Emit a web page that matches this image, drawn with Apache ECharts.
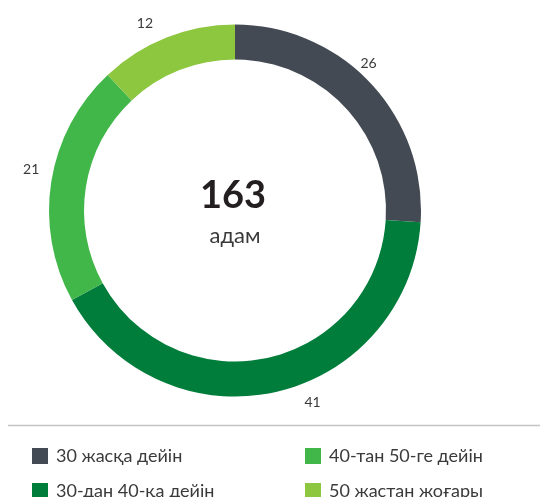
<!DOCTYPE html>
<html>
<head>
<meta charset="utf-8">
<script src="https://cdn.jsdelivr.net/npm/echarts@6/dist/echarts.min.js"></script>
<style>
  html, body { margin: 0; padding: 0; background: #fff; }
  #chart { width: 540px; height: 497px; }
</style>
</head>
<body>
<div id="chart"></div>
<script>
// Age groups and their shares
const categories = ['30 жасқа дейін', '30-дан 40-қа дейін', '40-тан 50-ге дейін', '50 жастан жоғары'];
const values = [26, 41, 21, 12];
const colors = ['#434a53', '#007c3b', '#41b649', '#8dc63f'];
const totalLabel = '163';
const totalUnit = 'адам';

// Fine placement of each slice's value label, relative to the default outside spot
const labelNudges = [[-18, -17], [23, 7], [-3, -11], [-7, -10]];

const chart = echarts.init(document.getElementById('chart'));
const font = 'Lato, "Open Sans", sans-serif';

const legendBase = {
  orient: 'vertical',
  itemWidth: 16,
  itemHeight: 16,
  itemGap: 17,
  padding: 0,
  icon: 'rect',
  top: 447,
  height: 60,
  textStyle: { fontFamily: font, fontSize: 18, color: '#3a3a3a', padding: [0, 0, 0, 3] },
  selectedMode: false
};

chart.setOption({
  animation: false,
  color: colors,
  textStyle: { fontFamily: font },
  legend: [
    Object.assign({}, legendBase, { left: 32, data: [categories[0], categories[1]] }),
    Object.assign({}, legendBase, { left: 305, data: [categories[2], categories[3]] })
  ],
  graphic: [
    {
      type: 'line',
      shape: { x1: 8, y1: 425.5, x2: 540, y2: 425.5 },
      style: { stroke: '#c4c4c4', lineWidth: 1.5 }
    },
    {
      type: 'text',
      x: 233, y: 196,
      style: {
        text: totalLabel, fontFamily: font, fontWeight: 'bold', fontSize: 38,
        fill: '#231f20', align: 'center', verticalAlign: 'middle'
      }
    },
    {
      type: 'text',
      x: 235, y: 236,
      style: {
        text: totalUnit, fontFamily: font, fontSize: 22,
        fill: '#3a3a3a', align: 'center', verticalAlign: 'middle'
      }
    }
  ],
  series: [{
    type: 'pie',
    center: [235, 210.5],
    radius: [151, 186],
    startAngle: 90,
    clockwise: true,
    avoidLabelOverlap: false,
    label: {
      show: true,
      position: 'outside',
      formatter: '{c}',
      fontFamily: font,
      fontSize: 14,
      color: '#3a3a3a'
    },
    labelLine: { show: false, length: 4, length2: 0 },
    emphasis: { disabled: true },
    itemStyle: { borderWidth: 0 },
    data: categories.map((name, i) => ({
      name: name,
      value: values[i],
      label: { offset: labelNudges[i] }
    }))
  }]
});
</script>
</body>
</html>
